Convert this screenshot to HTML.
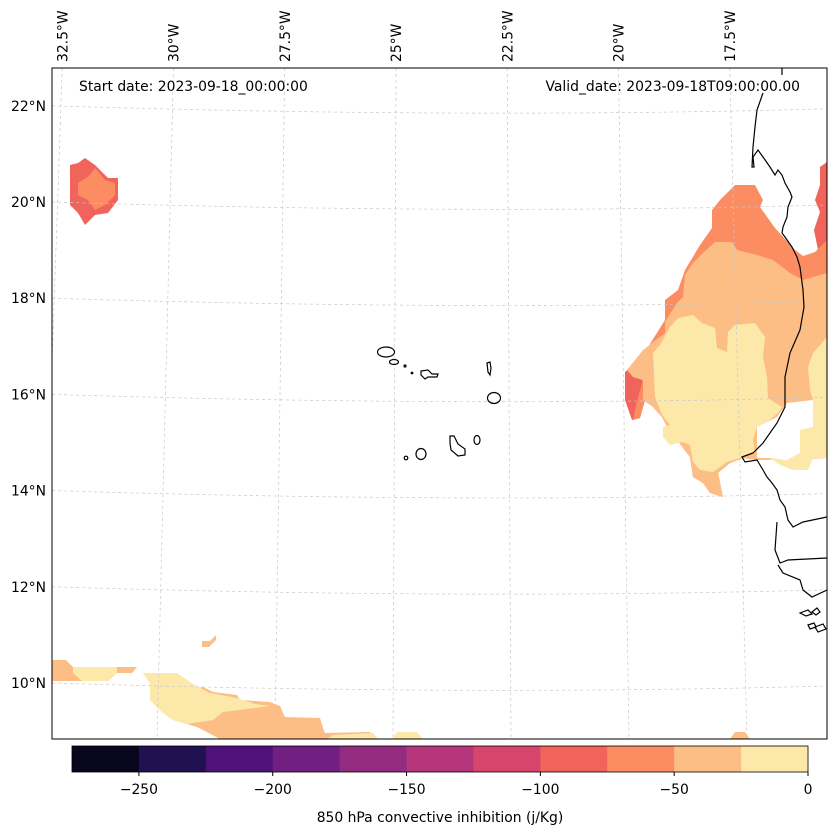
<!DOCTYPE html>
<html><head><meta charset="utf-8">
<style>
body{margin:0;background:#fff;}
svg{display:block;font-family:"DejaVu Sans","Liberation Sans",sans-serif;}
</style></head>
<body>
<svg id="fig" width="837" height="836" viewBox="0 0 837 836" xmlns="http://www.w3.org/2000/svg">
<g>
<clipPath id="mapclip"><rect x="52" y="68" width="775" height="671"/></clipPath>
<g clip-path="url(#mapclip)">
  <polygon fill="#f1645c" points="70,165 78,163 85,158 95,165 108,178 118,178 118,200 108,213 95,215 85,225 78,213 70,205"/>
  <polygon fill="#fc8d62" points="78,183 90,175 95,168 105,180 115,183 115,195 105,205 95,210 88,200 78,195"/>
  <polygon fill="#f1645c" points="820,167 827,162 827,250 818,250 814,230 820,212 815,200 820,185"/>
  <polygon fill="#f1645c" points="625,372 640,360 645,400 640,418 632,420 625,400"/>
  <polygon fill="#f1645c" points="712,213 718,205 720,225 712,227"/>
  <polygon fill="#fc8d62" points="735,185 755,185 763,200 760,207 775,228 795,250 803,256 815,252 827,240 827,458 757,460 743,458 730,463 718,473 723,497 710,493 703,483 693,477 690,457 667,427 662,417 653,407 645,400 640,418 633,420 636,405 643,380 633,377 627,370 645,352 665,320 665,300 678,290 685,270 700,245 712,228 712,210 720,200"/>
  <polygon fill="#fdbe85" points="715,242 732,242 737,250 757,255 773,260 790,273 803,280 820,275 827,273 827,458 757,460 743,458 730,463 718,473 723,497 710,493 703,483 693,477 690,457 667,427 662,417 653,407 643,400 643,380 633,377 627,370 643,350 665,333 665,322 677,303 683,297 685,275 693,263 703,253"/>
  <polygon fill="#fce8a9" points="678,318 693,315 702,323 715,328 717,348 727,352 728,332 735,325 755,323 765,337 763,357 767,377 768,398 782,407 778,413 767,422 757,427 753,440 755,452 743,457 727,462 713,472 700,470 693,462 690,445 682,442 670,445 663,437 663,427 670,425 662,415 655,397 653,353 660,345 670,327"/>
  <polygon fill="#fce8a9" points="827,337 813,353 808,367 810,390 813,400 813,427 800,430 800,453 787,460 770,458 780,465 793,470 808,470 813,458 827,458"/>
  <polygon fill="#ffffff" points="757,427 777,417 787,403 813,400 813,427 800,430 800,453 787,460 770,458 757,458"/>
  <polygon fill="#fdbe85" points="52,660 66,660 73,667 137,667 132,673 117,673 108,681 52,681"/>
  <polygon fill="#fce8a9" points="73,667 117,667 117,673 108,681 82,681 73,673"/>
  <polygon fill="#fdbe85" points="202,641 210,641 216,635 216,640 209,647 202,647"/>
  <polygon fill="#fdbe85" points="143,673 177,673 197,688 203,687 213,692 237,695 240,700 270,702 280,706 285,717 320,718 323,728 325,733 370,732 376,739 220,739 197,727 187,724 173,720 162,712 150,700 150,683"/>
  <polygon fill="#fce8a9" points="143,673 177,673 193,684 210,693 237,698 255,704 270,706 223,712 213,720 187,724 173,720 162,712 150,700 150,683"/>
  <polygon fill="#fce8a9" points="327,739 333,735 373,733 378,739"/>
  <polygon fill="#fce8a9" points="392,739 397,732 417,732 423,739"/>
  <polygon fill="#fdbe85" points="730,739 735,732 745,732 750,739"/>
</g>
<g id="grid" clip-path="url(#mapclip)" fill="none" stroke="#c8c8c8" stroke-width="0.7" stroke-dasharray="3,3"></g>
<g clip-path="url(#mapclip)" fill="none" stroke="#000" stroke-width="1.2">
  <path d="M782,68 L782,75 M763,93 L757,110 L755,127 L753,147 L752,167 L754,167 L753,157 L758,150 L763,157 L770,167 L775,175 L778,170 L782,175 L785,183 L790,192 L792,197 L788,207 L787,217 L783,227 L782,233 L785,237 L792,247 L797,257 L800,267 L803,290 L804,307 L800,330 L790,353 L785,377 L785,407 L777,423 L763,443 L753,453 L742,457 L745,462 L757,460 L763,470 L767,477 L772,483 L777,490 L780,500 L785,507 L788,520 L793,527 L803,522 L827,517 M777,522 L775,550 L780,563 L788,560 L827,558 M778,565 L783,573 L800,580 L803,590 L812,597 L827,590"/>
  <path d="M800,613 l8,-3 l4,4 l-6,2 z M812,612 l5,-4 l3,4 l-4,3 z M808,625 l6,-2 l2,4 l-6,2 z M815,627 l8,-3 l3,5 l-8,3 z"/>
  <ellipse cx="386" cy="352" rx="8.5" ry="5"/>
  <ellipse cx="394" cy="362" rx="4.5" ry="2.5"/>
  <circle cx="405" cy="366" r="1"/>
  <circle cx="412" cy="373" r="0.8"/>
  <path d="M421,371 L428,370 L432,374 L438,374 L437,377 L428,377 L425,379 L421,375 Z"/>
  <path d="M487,363 L490,362 L491,368 L490,375 L488,372 Z"/>
  <ellipse cx="494" cy="398" rx="6.5" ry="5.5"/>
  <ellipse cx="477" cy="440" rx="3" ry="4.5"/>
  <path d="M450,436 L454,436 L458,444 L465,449 L465,455 L458,456 L451,450 L450,443 Z"/>
  <ellipse cx="421" cy="454" rx="5" ry="5.5"/>
  <circle cx="406" cy="458" r="1.8"/>
</g>
<rect x="52" y="68" width="775" height="671" fill="none" stroke="#000" stroke-width="1"/>
<text x="79" y="91" font-size="13.9">Start date: 2023-09-18_00:00:00</text>
<text x="800" y="91" font-size="13.9" text-anchor="end">Valid_date: 2023-09-18T09:00:00.00</text>
<g id="lonlabels" font-size="13.9"></g>
<g id="latlabels" font-size="13.9" text-anchor="end"></g>
</g>
<g id="cbar"></g>
<text x="440" y="822" font-size="13.9" text-anchor="middle">850 hPa convective inhibition (j/Kg)</text>
</svg>
<script>
const cbLevels = [-275,-250,-225,-200,-175,-150,-125,-100,-75,-50,-25,0];
const cbColors = ["#07061d","#221150","#4f127b","#711f81","#932b80","#b5367a","#d8456c","#f1645c","#fc8d62","#fdbe85","#fce8a9"];
const cbTicks = [-250,-200,-150,-100,-50,0];
const lonTicks = [-32.5,-30,-27.5,-25,-22.5,-20,-17.5];
const latTicks = [22,20,18,16,14,12,10];

const NS="http://www.w3.org/2000/svg";
const cbX0=72, cbX1=808, cbY=746, cbH=26;
function cbx(v){return cbX0+(v-cbLevels[0])/(cbLevels[cbLevels.length-1]-cbLevels[0])*(cbX1-cbX0);}
const cb=document.getElementById('cbar');
for(let i=0;i<cbColors.length;i++){
  const r=document.createElementNS(NS,'rect');
  
  
  const a=cbx(cbLevels[i]), b=cbx(cbLevels[i+1]);
  r.setAttribute('x',a);r.setAttribute('y',cbY);r.setAttribute('width',b-a+0.5);r.setAttribute('height',cbH);
  r.setAttribute('fill',cbColors[i]);cb.appendChild(r);
}
const fr=document.createElementNS(NS,'rect');


fr.setAttribute('x',cbX0);fr.setAttribute('y',cbY);fr.setAttribute('width',cbX1-cbX0);fr.setAttribute('height',cbH);
fr.setAttribute('fill','none');fr.setAttribute('stroke','#000');fr.setAttribute('stroke-width','0.8');cb.appendChild(fr);
cbTicks.forEach(t=>{
  const x=cbx(t);
  const l=document.createElementNS(NS,'line');
  
  
  l.setAttribute('x1',x);l.setAttribute('x2',x);l.setAttribute('y1',cbY+cbH);l.setAttribute('y2',cbY+cbH+4);
  l.setAttribute('stroke','#000');cb.appendChild(l);
  const tx=document.createElementNS(NS,'text');
  
  
  tx.setAttribute('x',x);tx.setAttribute('y',794);tx.setAttribute('text-anchor','middle');tx.setAttribute('font-size','13.9');
  tx.textContent=(t<0?'\u2212'+Math.abs(t):String(t));cb.appendChild(tx);
});

function lonTopX(lon){return 396+(lon+25)*44.5;}
function lonBotX(lon){return 393+(lon+25)*47.2;}
function latY(lat){return 202+(20-lat)*48.1;}
const grid=document.getElementById('grid');
lonTicks.concat([-35,-15]).forEach(lon=>{
  const p=document.createElementNS(NS,'line');
  
  
  p.setAttribute('x1',lonTopX(lon));p.setAttribute('y1',68);p.setAttribute('x2',lonBotX(lon));p.setAttribute('y2',739);
  grid.appendChild(p);
});
latTicks.forEach(lat=>{
  const y=latY(lat);
  const p=document.createElementNS(NS,'path');
  
  
  p.setAttribute('d',`M52,${y} Q470,${y+13} 827,${y+3}`);
  grid.appendChild(p);
});
const lonG=document.getElementById('lonlabels');
lonTicks.forEach(lon=>{
  const x=lonTopX(lon);
  const t=document.createElementNS(NS,'text');
  
  
  t.setAttribute('transform',`translate(${x+5},62) rotate(-90)`);
  t.textContent=Math.abs(lon)+'\u00b0W';lonG.appendChild(t);
});
const latG=document.getElementById('latlabels');
latTicks.forEach(lat=>{
  const t=document.createElementNS(NS,'text');
  
  
  t.setAttribute('x',46);t.setAttribute('y',latY(lat)+5);
  t.textContent=lat+'\u00b0N';latG.appendChild(t);
});
</script>
</body></html>
